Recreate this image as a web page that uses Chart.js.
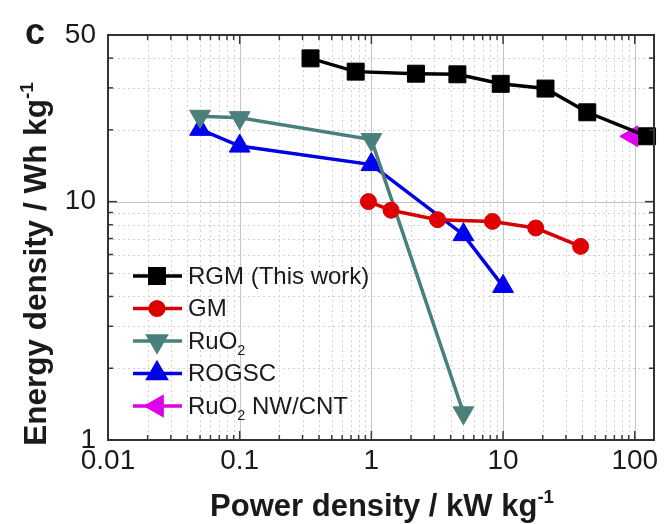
<!DOCTYPE html>
<html>
<head>
<meta charset="utf-8">
<script src="https://cdn.jsdelivr.net/npm/chart.js@4.4.0/dist/chart.umd.min.js"></script>
<style>
  html, body { margin: 0; padding: 0; background: #fff; }
</style>
</head>
<body>
<canvas id="ragone" width="667" height="524"></canvas>
<script>
// дані (потужність kW/kg, енергія Wh/kg)
const rgmPower = [0.345, 0.76, 2.18, 4.5, 9.6, 21, 43.6, 124];
const rgmEnergy = [39.9, 35.1, 34.4, 34.2, 31.2, 29.8, 23.7, 18.8];
const gmPower = [0.95, 1.41, 3.18, 8.3, 17.7, 38.8];
const gmEnergy = [10.0, 9.2, 8.4, 8.26, 7.75, 6.49];
const ruo2Power = [0.05, 0.1, 1, 5];
const ruo2Energy = [22.8, 22.5, 18.2, 1.3];
const rogscPower = [0.05, 0.1, 1, 5, 10];
const rogscEnergy = [20.1, 17.1, 14.3, 7.27, 4.41];
const nwPower = [95];
const nwEnergy = [18.8];

const seriesNames = ['RGM (This work)', 'GM', 'RuO₂', 'ROGSC', 'RuO₂ NW/CNT'];
const xTicks = [0.01, 0.1, 1, 10, 100];
const yTicks = [1, 10, 50];

const FONT = "'Liberation Sans', Arial, sans-serif";

function pts(xs, ys) {
    return xs.map((v, i) => ({ x: v, y: ys[i] }));
}

// мінорні значення 2..9 у кожній декаді
function minorValues(scale) {
    const out = [];
    const lo = Math.floor(Math.log10(scale.min));
    const hi = Math.ceil(Math.log10(scale.max));
    for (let d = lo; d <= hi; d++) {
        for (let m = 2; m <= 9; m++) {
            const v = Number((m * Math.pow(10, d)).toPrecision(3));
            if (v > scale.min && v < scale.max) out.push(v);
        }
    }
    return out;
}
function majorValues(scale) {
    const out = [];
    for (let d = Math.ceil(Math.log10(scale.min)); d <= Math.floor(Math.log10(scale.max)); d++) {
        const v = Number(Math.pow(10, d).toPrecision(3));
        if (v > scale.min && v < scale.max) out.push(v);
    }
    return out;
}

// текст із нижнім індексом ₂ та верхнім індексом
function drawRich(ctx, parts, x, y, size, weight) {
    let cx = x;
    parts.forEach(p => {
        const s = p.sub || p.sup ? size * 0.6 : size;
        ctx.font = `${weight} ${s}px ${FONT}`;
        const dy = p.sub ? size * 0.38 : (p.sup ? -size * 0.42 : 0);
        ctx.fillText(p.t, cx, y + dy);
        cx += ctx.measureText(p.t).width;
    });
    return cx - x;
}
function measureRich(ctx, parts, size, weight) {
    let w = 0;
    parts.forEach(p => {
        const s = p.sub || p.sup ? size * 0.6 : size;
        ctx.font = `${weight} ${s}px ${FONT}`;
        w += ctx.measureText(p.t).width;
    });
    return w;
}
function splitSub(text) {
    const parts = [];
    text.split(/(₂)/).forEach(t => {
        if (!t) return;
        if (t === '₂') parts.push({ t: '2', sub: true });
        else parts.push({ t });
    });
    return parts;
}

const framePlugin = {
    id: 'frame',
    beforeDatasetsDraw(chart) {
        const { ctx, chartArea: a, scales: { x, y } } = chart;
        ctx.save();
        // мінорна сітка — пунктир
        ctx.strokeStyle = '#d2d2d2';
        ctx.lineWidth = 1;
        ctx.setLineDash([2, 3]);
        minorValues(x).forEach(v => {
            const p = Math.round(x.getPixelForValue(v)) + 0.5;
            ctx.beginPath(); ctx.moveTo(p, a.top); ctx.lineTo(p, a.bottom); ctx.stroke();
        });
        minorValues(y).forEach(v => {
            const p = Math.round(y.getPixelForValue(v)) + 0.5;
            ctx.beginPath(); ctx.moveTo(a.left, p); ctx.lineTo(a.right, p); ctx.stroke();
        });
        // основна сітка
        ctx.setLineDash([]);
        ctx.strokeStyle = '#c4c4c4';
        majorValues(x).forEach(v => {
            const p = Math.round(x.getPixelForValue(v)) + 0.5;
            ctx.beginPath(); ctx.moveTo(p, a.top); ctx.lineTo(p, a.bottom); ctx.stroke();
        });
        majorValues(y).forEach(v => {
            const p = Math.round(y.getPixelForValue(v)) + 0.5;
            ctx.beginPath(); ctx.moveTo(a.left, p); ctx.lineTo(a.right, p); ctx.stroke();
        });
        ctx.restore();
    },
    afterDatasetsDraw(chart) {
        const { ctx, chartArea: a, scales: { x, y } } = chart;
        ctx.save();
        ctx.strokeStyle = '#3a3a3a';
        ctx.lineWidth = 1.5;
        // внутрішні засічки з усіх боків
        const tick = (vals, len, axis) => vals.forEach(v => {
            if (axis === 'x') {
                const p = x.getPixelForValue(v);
                ctx.beginPath(); ctx.moveTo(p, a.bottom); ctx.lineTo(p, a.bottom - len); ctx.stroke();
                ctx.beginPath(); ctx.moveTo(p, a.top); ctx.lineTo(p, a.top + len); ctx.stroke();
            } else {
                const p = y.getPixelForValue(v);
                ctx.beginPath(); ctx.moveTo(a.left, p); ctx.lineTo(a.left + len, p); ctx.stroke();
                ctx.beginPath(); ctx.moveTo(a.right, p); ctx.lineTo(a.right - len, p); ctx.stroke();
            }
        });
        tick(minorValues(x), 5, 'x');
        tick(majorValues(x), 9, 'x');
        tick(minorValues(y), 5, 'y');
        tick(majorValues(y), 9, 'y');
        // рамка
        ctx.lineWidth = 2;
        ctx.strokeStyle = '#333';
        ctx.strokeRect(a.left, a.top, a.right - a.left, a.bottom - a.top);
        ctx.restore();
    },
    afterDraw(chart) {
        const { ctx } = chart;
        ctx.save();
        ctx.fillStyle = '#1a1a1a';
        ctx.textBaseline = 'alphabetic';

        // легенда всередині графіка
        chart.data.datasets.forEach((ds, i) => {
            const yy = 276 + 32.5 * i;
            ctx.strokeStyle = ds.borderColor;
            ctx.lineWidth = 3.5;
            ctx.beginPath(); ctx.moveTo(133, yy); ctx.lineTo(182, yy); ctx.stroke();
            ctx.fillStyle = ds.pointBackgroundColor;
            ctx.strokeStyle = ds.borderColor;
            Chart.helpers.drawPoint(ctx, {
                pointStyle: ds.pointStyle,
                rotation: ds.pointRotation || 0,
                radius: ds.pointRadius * 0.85,
                borderWidth: 1
            }, 157, yy);
            ctx.fillStyle = '#1a1a1a';
            ctx.textBaseline = 'middle';
            drawRich(ctx, splitSub(seriesNames[i]), 188, yy + 1, 24, 'normal');
        });

        // підпис осі X
        ctx.textBaseline = 'alphabetic';
        const xt = [{ t: 'Power density / kW kg' }, { t: '-1', sup: true }];
        const xw = measureRich(ctx, xt, 31, 'bold');
        drawRich(ctx, xt, 382 - xw / 2, 516, 31, 'bold');

        // підпис осі Y
        const yt = [{ t: 'Energy density / Wh kg' }, { t: '-1', sup: true }];
        const yw = measureRich(ctx, yt, 31.5, 'bold');
        ctx.save();
        ctx.translate(46, 264);
        ctx.rotate(-Math.PI / 2);
        drawRich(ctx, yt, -yw / 2, 0, 31.5, 'bold');
        ctx.restore();

        // літера панелі
        ctx.font = `bold 36px ${FONT}`;
        ctx.fillText('c', 25, 44);
        ctx.restore();
    }
};

const datasets = [
    { label: seriesNames[0], data: pts(rgmPower, rgmEnergy), borderColor: '#000000', pointBackgroundColor: '#000000', pointStyle: 'rect', pointRadius: 12 },
    { label: seriesNames[1], data: pts(gmPower, gmEnergy), borderColor: '#d60000', pointBackgroundColor: '#e00000', pointStyle: 'circle', pointRadius: 8 },
    { label: seriesNames[2], data: pts(ruo2Power, ruo2Energy), borderColor: '#4a807c', pointBackgroundColor: '#4a807c', pointStyle: 'triangle', pointRotation: 180, pointRadius: 12 },
    { label: seriesNames[3], data: pts(rogscPower, rogscEnergy), borderColor: '#0000e6', pointBackgroundColor: '#0000f0', pointStyle: 'triangle', pointRadius: 12 },
    { label: seriesNames[4], data: pts(nwPower, nwEnergy), borderColor: '#dd00e6', pointBackgroundColor: '#e000f0', pointStyle: 'triangle', pointRotation: -90, pointRadius: 12 }
].map(ds => Object.assign({
    showLine: true,
    borderWidth: 3.5,
    pointBorderColor: ds.borderColor,
    pointBorderWidth: 1,
    pointHoverRadius: ds.pointRadius,
    clip: 6
}, ds));

new Chart(document.getElementById('ragone'), {
    type: 'scatter',
    data: { datasets },
    options: {
        responsive: false,
        animation: false,
        devicePixelRatio: 1,
        layout: { padding: { top: 35, right: 10, bottom: 0, left: 0 } },
        plugins: { legend: { display: false }, tooltip: { enabled: false } },
        scales: {
            x: {
                type: 'logarithmic',
                min: 0.01,
                max: 140,
                afterBuildTicks: s => { s.ticks = xTicks.map(v => ({ value: v })); },
                afterFit: s => { s.height = 84; s.paddingLeft = 0; s.paddingRight = 0; },
                ticks: {
                    callback: v => String(v),
                    font: { family: FONT, size: 28 },
                    color: '#1a1a1a',
                    padding: 4,
                    maxRotation: 0,
                    autoSkip: false
                },
                grid: { display: false, drawTicks: false },
                border: { display: false }
            },
            y: {
                type: 'logarithmic',
                min: 1,
                max: 50,
                afterBuildTicks: s => { s.ticks = yTicks.map(v => ({ value: v })); },
                afterFit: s => { s.width = 108; s.paddingTop = 0; s.paddingBottom = 0; },
                ticks: {
                    callback: v => String(v),
                    font: { family: FONT, size: 28 },
                    color: '#1a1a1a',
                    padding: 12,
                    autoSkip: false
                },
                grid: { display: false, drawTicks: false },
                border: { display: false }
            }
        }
    },
    plugins: [framePlugin]
});
</script>
</body>
</html>
